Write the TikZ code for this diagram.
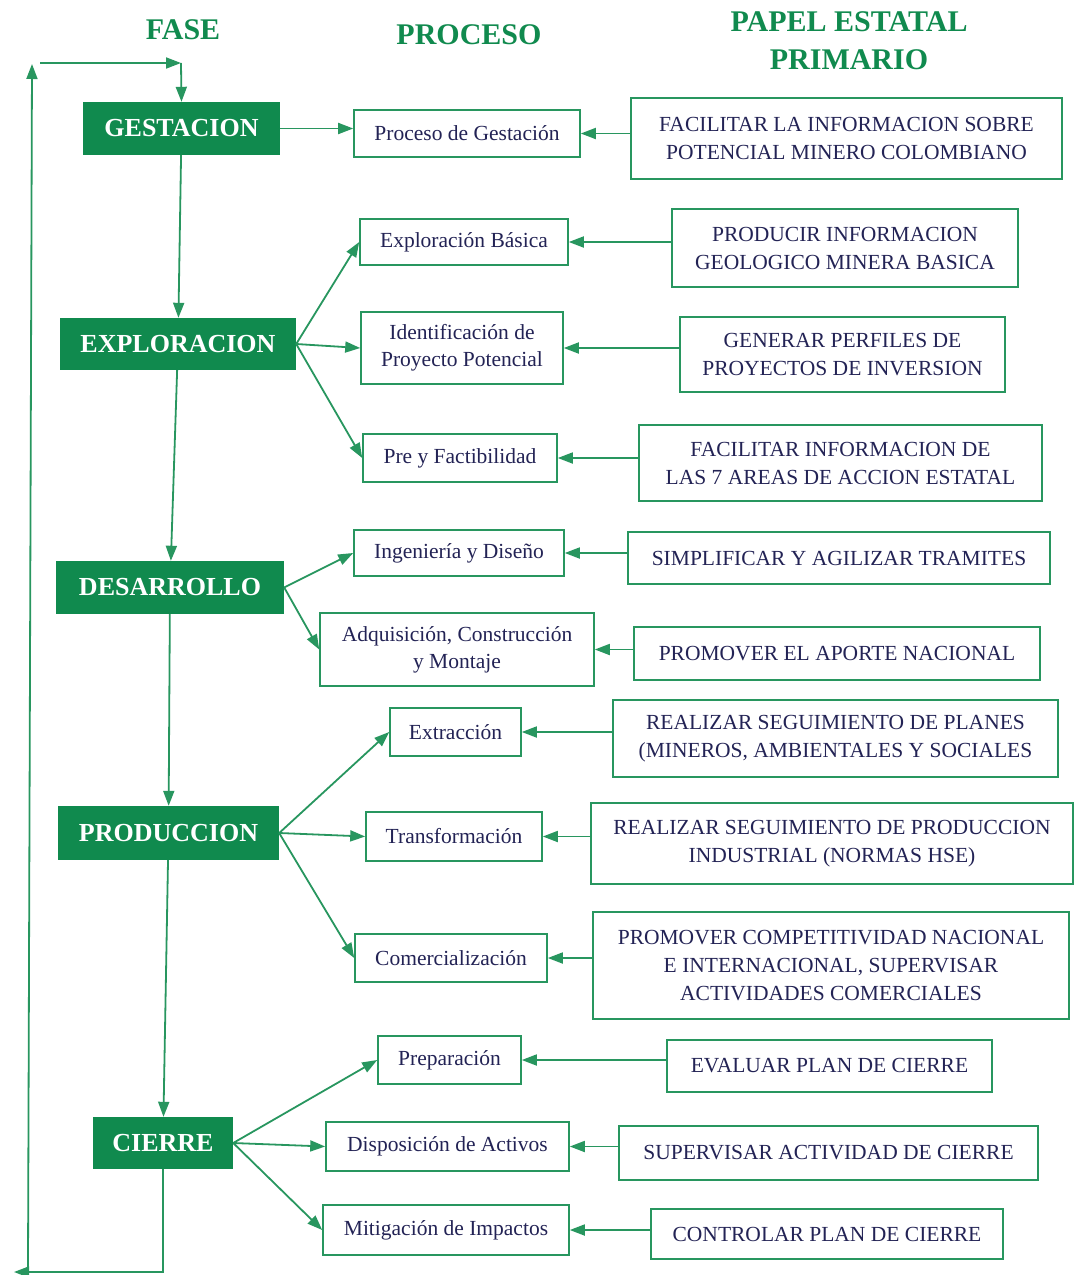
\documentclass[tikz,border=0pt]{standalone}
\usepackage{fontspec}
\setmainfont{Liberation Serif}
\usetikzlibrary{arrows.meta}
\definecolor{gr}{RGB}{16,138,78}
\definecolor{ln}{RGB}{40,150,95}
\definecolor{nv}{RGB}{35,35,85}
\begin{document}
\begin{tikzpicture}[x=1pt,y=-1pt,
  phasebox/.style={fill=gr,draw=none,text=white,inner sep=0pt,
    font=\fontsize{26}{30}\selectfont\bfseries},
  procbox/.style={draw=ln,line width=1.6pt,fill=white,text=nv,inner sep=0pt,align=center,
    font=\fontsize{21.5}{27}\selectfont},
  rolebox/.style={draw=ln,line width=1.6pt,fill=white,text=nv,inner sep=0pt,align=center,
    font=\fontsize{21.5}{28}\selectfont},
  header/.style={text=gr,align=center,font=\fontsize{30}{38}\selectfont\bfseries},
  arr/.style={draw=ln,line width=1.8pt,-{Triangle[length=15pt,width=11pt,fill=ln]}},
  sz/.style 2 args={minimum width=#1pt,minimum height=#2pt}
]
\useasboundingbox (0,0) rectangle (1075,1275);

% headers
\node[header] (h1) at (183,30) {FASE};
\node[header] (h2) at (469,35) {PROCESO};
\node[header] (h3) at (849,41) {PAPEL ESTATAL\\PRIMARIO};

% phases
\node[phasebox,sz={197}{53}] (g) at (181.5,128.5) {GESTACION};
\node[phasebox,sz={236}{52}] (e) at (178,344) {EXPLORACION};
\node[phasebox,sz={228}{53}] (d) at (170,587.5) {DESARROLLO};
\node[phasebox,sz={221}{54}] (p) at (168.5,833) {PRODUCCION};
\node[phasebox,sz={140}{52}] (c) at (163,1143) {CIERRE};

% processes
\node[procbox,sz={226}{47}] (p1) at (467,133.5) {Proceso de Gestación};
\node[procbox,sz={208}{46}] (p2) at (464,242) {Exploración Básica};
\node[procbox,sz={202}{72}] (p3) at (462,348) {Identificación de\\Proyecto Potencial};
\node[procbox,sz={194}{48}] (p4) at (460,458) {Pre y Factibilidad};
\node[procbox,sz={210}{46}] (p5) at (459,553) {Ingeniería y Diseño};
\node[procbox,sz={274}{73}] (p6) at (457,649.5) {Adquisición, Construcción\\y Montaje};
\node[procbox,sz={131}{48}] (p7) at (455.5,732) {Extracción};
\node[procbox,sz={176}{49}] (p8) at (454,836.5) {Transformación};
\node[procbox,sz={192}{48}] (p9) at (451,958) {Comercialización};
\node[procbox,sz={143}{48}] (p10) at (449.5,1060) {Preparación};
\node[procbox,sz={243}{49}] (p11) at (447.5,1146.5) {Disposición de Activos};
\node[procbox,sz={246}{50}] (p12) at (446,1230) {Mitigación de Impactos};

% roles
\node[rolebox,sz={431}{81}] (r1) at (846.5,138.5) {FACILITAR LA INFORMACION SOBRE\\POTENCIAL MINERO COLOMBIANO};
\node[rolebox,sz={346}{78}] (r2) at (845,248) {PRODUCIR INFORMACION\\GEOLOGICO MINERA BASICA};
\node[rolebox,sz={325}{75}] (r3) at (842.5,354.5) {GENERAR PERFILES DE\\PROYECTOS DE INVERSION};
\node[rolebox,sz={403}{76}] (r4) at (840.5,463) {FACILITAR INFORMACION DE\\LAS 7 AREAS DE ACCION ESTATAL};
\node[rolebox,sz={422}{52}] (r5) at (839,558) {SIMPLIFICAR Y AGILIZAR TRAMITES};
\node[rolebox,sz={406}{53}] (r6) at (837,653.5) {PROMOVER EL APORTE NACIONAL};
\node[rolebox,sz={445}{77}] (r7) at (835.5,738.5) {REALIZAR SEGUIMIENTO DE PLANES\\(MINEROS, AMBIENTALES Y SOCIALES};
\node[rolebox,sz={482}{81}] (r8) at (832,843.5) {REALIZAR SEGUIMIENTO DE PRODUCCION\\INDUSTRIAL (NORMAS HSE)};
\node[rolebox,sz={476}{107}] (r9) at (831,965.5) {PROMOVER COMPETITIVIDAD NACIONAL\\E INTERNACIONAL, SUPERVISAR\\ACTIVIDADES COMERCIALES};
\node[rolebox,sz={325}{52}] (r10) at (829.5,1066) {EVALUAR PLAN DE CIERRE};
\node[rolebox,sz={419}{54}] (r11) at (828.5,1153) {SUPERVISAR ACTIVIDAD DE CIERRE};
\node[rolebox,sz={352}{50}] (r12) at (827,1234) {CONTROLAR PLAN DE CIERRE};

% phase chain
\draw[arr] (g) -- (e);
\draw[arr] (e) -- (d);
\draw[arr] (d) -- (p);
\draw[arr] (p) -- (c);

% loop back
\coordinate (l1) at (14,1272);
\coordinate (l2b) at (28,1268);
\coordinate (l2t) at (32,64);
\coordinate (l3a) at (40,63);
\coordinate (l3b) at (181,63);
\draw[arr] (c.south) |- (l1);
\draw[arr] (l2b) -- (l2t);
\draw[arr] (l3a) -- (l3b);
\draw[arr] (l3b) -- (g.north);

% phase -> process
\draw[arr] (g.east) -- (g.east -| p1.west);
\draw[arr] (e.east) -- (p2.west);
\draw[arr] (e.east) -- (p3.west);
\draw[arr] (e.east) -- (p4.west);
\draw[arr] (d.east) -- (p5.west);
\draw[arr] (d.east) -- (p6.west);
\draw[arr] (p.east) -- (p7.west);
\draw[arr] (p.east) -- (p8.west);
\draw[arr] (p.east) -- (p9.west);
\draw[arr] (c.east) -- (p10.west);
\draw[arr] (c.east) -- (p11.west);
\draw[arr] (c.east) -- (p12.west);

% role -> process
\foreach \i in {1,...,12}{
  \draw[arr] (r\i.west |- p\i.east) -- (p\i.east);
}
\end{tikzpicture}
\end{document}
